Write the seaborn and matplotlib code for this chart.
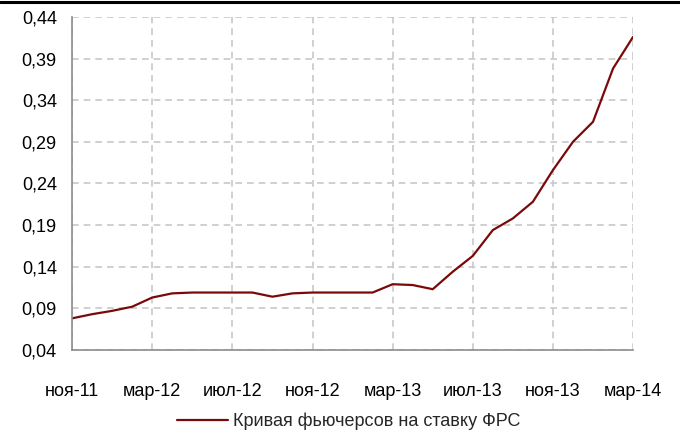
import numpy as np
import pandas as pd
import matplotlib
matplotlib.use('Agg')
import matplotlib.pyplot as plt
import seaborn as sns
from matplotlib.lines import Line2D

# monthly points, ноя-11 .. мар-14
months = pd.date_range('2011-11-01', '2014-03-01', freq='MS')
fed_futures = [0.078, 0.083, 0.087, 0.092, 0.103, 0.108, 0.109, 0.109, 0.109, 0.109,
               0.104, 0.108, 0.109, 0.109, 0.109, 0.109, 0.119, 0.118, 0.113, 0.134,
               0.153, 0.184, 0.198, 0.218, 0.256, 0.290, 0.314, 0.378, 0.416]
tick_labels = ['ноя-11', 'мар-12', 'июл-12', 'ноя-12', 'мар-13', 'июл-13', 'ноя-13', 'мар-14']
y_ticks = [0.04, 0.09, 0.14, 0.19, 0.24, 0.29, 0.34, 0.39, 0.44]
series_name = 'Кривая фьючерсов на ставку ФРС'

df = pd.DataFrame({'m': np.arange(len(months)), 'val': fed_futures, 'series': series_name})

sns.set_style('white')
plt.rcParams['font.family'] = ['Liberation Sans', 'DejaVu Sans']
fs = 13

fig = plt.figure(figsize=(6.8, 4.33), dpi=100)
ax = fig.add_axes([0.106, 0.1917, 0.825, 0.7693])

sns.lineplot(data=df, x='m', y='val', hue='series', palette=['#7a0a0a'], linewidth=1.6, ax=ax)

ax.set_xlim(0, len(months) - 1)
ax.set_ylim(0.04, 0.44)
ax.set_xticks(np.arange(0, len(months), 4))
ax.set_xticks(np.arange(2, len(months), 4), minor=True)
ax.set_xticklabels(tick_labels)
ax.set_yticks(y_ticks)
ax.set_yticklabels([f'{v:.2f}'.replace('.', ',') for v in y_ticks])

ax.grid(True, which='major', color='#c8c8c8', linestyle=(0, (4, 3)), linewidth=1.2)
ax.set_axisbelow(True)
for s in ['top', 'right']:
    ax.spines[s].set_visible(False)
for s in ['left', 'bottom']:
    ax.spines[s].set_color('#8c8c8c')
    ax.spines[s].set_linewidth(1.2)
ax.tick_params(axis='both', which='both', direction='out', length=5, width=1.2,
               color='#8c8c8c', labelsize=fs, labelcolor='black')
ax.tick_params(axis='x', pad=19)
ax.tick_params(axis='y', pad=6)
ax.set_xlabel('')
ax.set_ylabel('')

ax.legend(loc='upper center', bbox_to_anchor=(0.493, -0.14), frameon=False,
          fontsize=fs, handlelength=2.8, handletextpad=0.3)

fig.add_artist(Line2D([0, 1], [0.996, 0.996], color='black', linewidth=2.2, transform=fig.transFigure))

fig.savefig('out.png', dpi=100)
